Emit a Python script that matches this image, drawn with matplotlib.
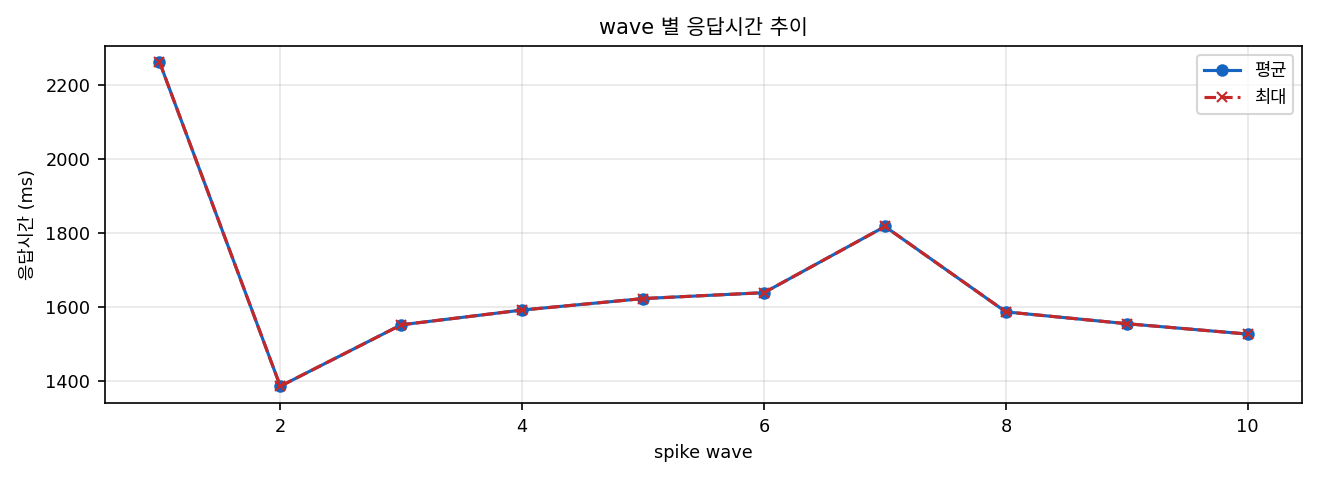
import matplotlib
matplotlib.use('Agg')
from matplotlib import pyplot as plt

plt.rcParams['font.family'] = ['DejaVu Sans', 'Noto Sans CJK KR']
plt.rcParams['axes.unicode_minus'] = False
plt.rcParams['font.size'] = 8.5

waves = [1, 2, 3, 4, 5, 6, 7, 8, 9, 10]
avg_ms = [2264, 1386, 1552, 1592, 1623, 1639, 1818, 1587, 1555, 1527]
max_ms = [2264, 1386, 1552, 1592, 1623, 1639, 1818, 1587, 1555, 1527]

fig = plt.figure(figsize=(8.8, 3.2), dpi=150)
ax = fig.add_axes([0.0795, 0.160, 0.907, 0.744])

ax.plot(waves, avg_ms, marker='o', color='#1565C0', linestyle='-', linewidth=1.5,
        markersize=5, label='평균')
ax.plot(waves, max_ms, marker='x', color='#C62828', linestyle='--', linewidth=1.5,
        markersize=5, label='최대')

ax.set_title('wave 별 응답시간 추이', fontsize=10)
ax.set_xlabel('spike wave')
ax.set_ylabel('응답시간 (ms)')
ax.set_yticks([1400, 1600, 1800, 2000, 2200])
ax.set_ylim(1340, 2306)
ax.grid(True, alpha=0.3)
ax.legend(loc='upper right')

fig.savefig('out.png', dpi=150)
